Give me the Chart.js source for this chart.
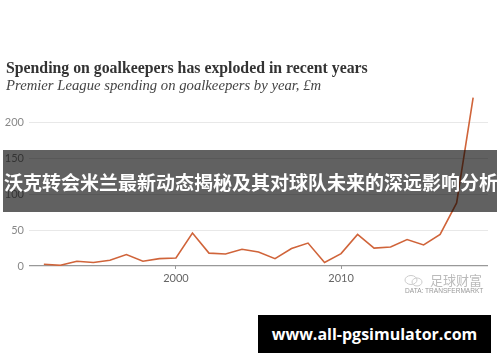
<!DOCTYPE html>
<html>
<head>
<meta charset="utf-8">
<script src="https://cdn.jsdelivr.net/npm/chart.js@4.4.1/dist/chart.umd.min.js"></script>
<style>
  html, body { margin:0; padding:0; background:#fff; }
  #wrap { position:relative; width:500px; height:362px; overflow:hidden; background:#fff; }
  #c { position:absolute; left:0; top:0; }
  .title { position:absolute; left:6px; top:60px; font-family:"Liberation Serif", serif; font-weight:bold; font-size:15.8px; line-height:16px; color:#333; white-space:nowrap; }
  .sub { position:absolute; left:6px; top:78px; font-family:"Liberation Serif", serif; font-style:italic; font-size:14.7px; line-height:14.5px; color:#444; white-space:nowrap; }
  .banner { position:absolute; left:3px; top:150px; width:494px; height:62px; background:rgba(0,0,0,0.62); color:#fff; font-family:"Noto Sans CJK SC", sans-serif; font-weight:bold; font-size:19px; line-height:19px; white-space:nowrap; }
  .wm { position:absolute; left:430px; top:273px; font-family:"Noto Sans CJK SC", sans-serif; font-size:13px; line-height:13px; color:#bbb; white-space:nowrap; }
  .src { position:absolute; left:405px; top:287px; font-family:"Liberation Sans", sans-serif; font-size:8px; line-height:8px; color:#999; white-space:nowrap; transform:scaleX(0.82); transform-origin:left top; }
  .icon { position:absolute; left:404px; top:275px; width:20px; height:12px; }
  .blackbox { position:absolute; left:258px; top:315px; width:233px; height:38px; background:#000; color:#fff; font-family:"Open Sans", sans-serif; font-weight:bold; font-size:16px; line-height:38px; text-align:center; white-space:nowrap; }
</style>
</head>
<body>
<div id="wrap">
  <canvas id="c" width="500" height="362"></canvas>
  <div class="title">Spending on goalkeepers has exploded in recent years</div>
  <div class="sub">Premier League spending on goalkeepers by year, £m</div>
  <div class="banner"><span style="position:absolute;left:1px;top:22px;">沃克转会米兰最新动态揭秘及其对球队未来的深远影响分析</span></div>
  <svg class="icon" viewBox="0 0 20 12"><ellipse cx="7" cy="5" rx="6" ry="4.5" fill="none" stroke="#ccc" stroke-width="1"/><ellipse cx="13" cy="7" rx="5" ry="4" fill="none" stroke="#ccc" stroke-width="1"/></svg>
  <div class="wm">足球财富</div>
  <div class="src">DATA: TRANSFERMARKT</div>
  <div class="blackbox">www.all-pgsimulator.com</div>
</div>
<script>
const years = [1992,1993,1994,1995,1996,1997,1998,1999,2000,2001,2002,2003,2004,2005,2006,2007,2008,2009,2010,2011,2012,2013,2014,2015,2016,2017,2018];
const spending = [2.4,1,6.6,4.8,8,16,6.6,10.3,11.2,46,18,16.8,23.4,19.6,10.3,24.3,32,4.8,17.3,44,25,26.6,37,29.4,44,88,235];
const yTicks = [0,50,100,150,200];
const xTicks = [2000,2010];

new Chart(document.getElementById('c'), {
  type: 'line',
  data: {
    datasets: [{
      data: years.map((y,i)=>({x:y, y:spending[i]})),
      borderColor: '#d0643a',
      borderWidth: 1.6,
      pointRadius: 0,
      tension: 0,
      fill: false
    }]
  },
  options: {
    responsive: false,
    animation: false,
    devicePixelRatio: 1,
    layout: { padding: { top: 94, bottom: 76, right: 12, left: 0 } },
    plugins: { legend: { display:false }, tooltip: { enabled:false } },
    scales: {
      x: {
        type: 'linear',
        min: 1991.1, max: 2018.9,
        afterBuildTicks: s => { s.ticks = xTicks.map(v=>({value:v})); },
        afterFit: s => { s.height = 20; },
        grid: { drawOnChartArea:false, drawTicks:true, tickLength:3, color:'#999' },
        border: { display:false },
        ticks: { padding:3, color:'#666', font:{ family:'Lato', size:11 }, callback: v => String(v) }
      },
      y: {
        min: 0, max: 240,
        afterBuildTicks: s => { s.ticks = yTicks.map(v=>({value:v})); },
        afterFit: s => { s.width = 29; },
        grid: { drawTicks:false, color: c => c.tick && c.tick.value === 0 ? '#999' : '#e8e8e8', lineWidth: c => c.tick && c.tick.value === 0 ? 1.2 : 1 },
        border: { display:false },
        ticks: { padding:5, color:'#888', font:{ family:'Lato', size:11 } }
      }
    }
  }
});
</script>
</body>
</html>
